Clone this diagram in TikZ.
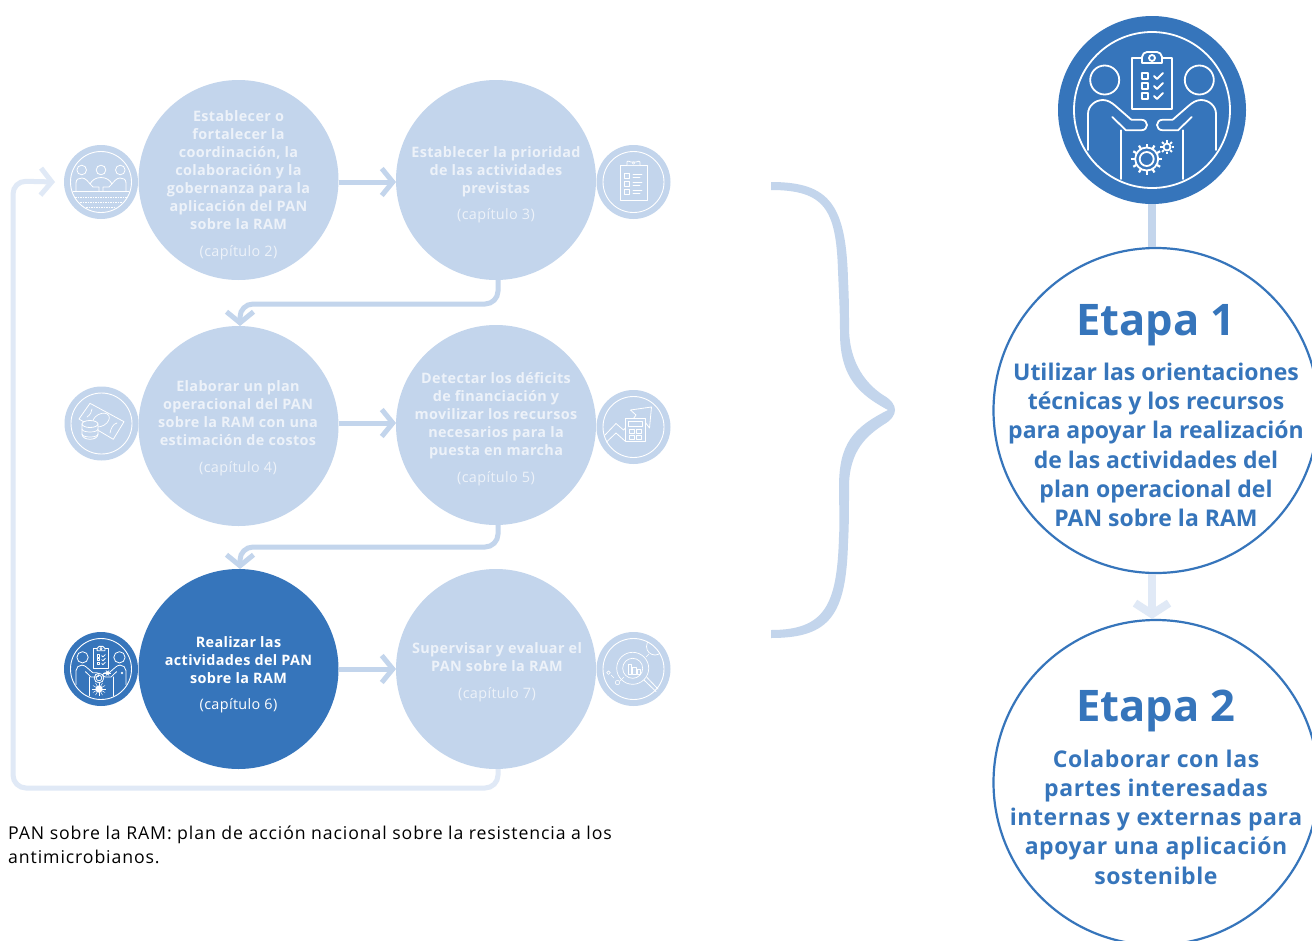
\documentclass[tikz,border=0pt]{standalone}
\usepackage{fontspec}
\setmainfont{Open Sans}
\newfontfamily\stepfont[LetterSpace=2.5]{Open Sans}
\newfontfamily\notefont[LetterSpace=5]{Open Sans}
\usetikzlibrary{arrows.meta}
\definecolor{ramdark}{HTML}{3675BB}
\definecolor{ramlight}{HTML}{C3D5EC}
\definecolor{ramfaint}{HTML}{E0E9F6}
\definecolor{ramtext}{HTML}{EDF2F9}
\tikzset{
  stepc/.style={circle,fill=ramlight,inner sep=0pt,outer sep=0pt,minimum size=200pt},
  stepd/.style={stepc,fill=ramdark},
  iconc/.style={circle,fill=ramlight,inner sep=0pt,outer sep=0pt,minimum size=74pt},
  icond/.style={iconc,fill=ramdark},
  stept/.style={align=center,text=ramtext,inner sep=0pt,font=\stepfont\fontsize{14.4}{18}\selectfont\bfseries},
  stagec/.style={circle,draw=ramdark,fill=white,line width=2.2pt,inner sep=0pt,minimum size=325pt},
  staget/.style={align=center,text=ramdark,inner sep=0pt,font=\fontsize{23}{29.3}\selectfont\bfseries},
  stagen/.style={text=ramdark,inner sep=0pt,font=\fontsize{43.5}{50}\selectfont\bfseries},
  flow/.style={draw=ramlight,line width=5pt,rounded corners=13pt,-{Straight Barb[length=11pt,width=27pt]}},
  flowf/.style={flow,draw=ramfaint},
  ring/.style={draw=white,line width=.9pt},
  iconl/.style={draw=white,line cap=round,line join=round},
  handshake/.pic={
    \draw[iconl] (-47.3,-30) circle (14.5);
    \draw[iconl] (47.3,-30) circle (14.5);
    \draw[iconl] (-20,-52) rectangle (20,-1);
    \draw[iconl,fill=ramdark] (-10,-47) -- (-10,-53) .. controls (-10,-56) and (-7,-58) .. (-5,-58) .. controls (-3,-58) and (3,-58) .. (5,-58) .. controls (7,-58) and (10,-56) .. (10,-53) -- (10,-47) -- cycle;
    \draw[iconl] (0,-52) circle (3);
    \foreach \y in {-34,-24,-14} {
      \draw[iconl] (-10,\y-3) rectangle (-4,\y+3);
      \draw[iconl] (2,\y) -- (5,\y+3) -- (11,\y-3);
    }
    \foreach \s in {1,-1} {
      \begin{scope}[xscale=\s]
      \draw[iconl] (-64,40) -- (-64,4) .. controls (-64,-4) and (-57,-10) .. (-49,-10) .. controls (-44,-10) and (-40,-7) .. (-37,-4.5) -- (-20.7,9.7) -- (-11,9.7) .. controls (-3,9.7) and (-3,20.3) .. (-11,20.3) -- (-26,20.3) -- (-39.7,7);
      \draw[iconl] (-30.7,20.3) -- (-30.7,69);
      \end{scope}
    }
  }
}
\begin{document}
\begin{tikzpicture}[x=1pt,y=-1pt]
\useasboundingbox (0,0) rectangle (1312,940);
\fill[white] (0,0) rectangle (1312,940);

\node[stepc] (coord) at (238.5,180) {};
\node[stepc] (prior) at (496,180) {};
\node[stepc] (plan) at (238.5,426) {};
\node[stepc] (fund) at (496,425) {};
\node[stepd] (impl) at (238.5,669) {};
\node[stepc] (eval) at (496,669) {};

\node[iconc] (icoord) at (101,182) {};
\node[iconc] (iprior) at (633.5,182) {};
\node[iconc] (iplan) at (101.5,423.5) {};
\node[iconc] (ifund) at (633.5,427) {};
\node[icond] (iimpl) at (101,669) {};
\node[iconc] (ieval) at (633.5,669) {};
\foreach \n in {icoord,iprior,iplan,ifund,iimpl,ieval} \draw[ring] (\n) circle (30.5);

\node[stept] (tcoord) at (238.5,185.5) {Establecer o\\fortalecer la\\coordinación, la\\colaboración y la\\gobernanza para la\\aplicación del PAN\\sobre la RAM\\[8.5pt]\mdseries (capítulo 2)};
\node[stept] (tprior) at (496,185) {Establecer la prioridad\\de las actividades\\previstas\\[8.5pt]\mdseries (capítulo 3)};
\node[stept] (tplan) at (238,428.5) {Elaborar un plan\\operacional del PAN\\sobre la RAM con una\\estimación de costos\\[8.5pt]\mdseries (capítulo 4)};
\node[stept] (tfund) at (496,429) {Detectar los déficits\\de financiación y\\movilizar los recursos\\necesarios para la\\puesta en marcha\\[8.5pt]\mdseries (capítulo 5)};
\node[stept,text=white] (timpl) at (238.5,674.5) {Realizar las\\actividades del PAN\\sobre la RAM\\[8.5pt]\mdseries (capítulo 6)};
\node[stept] (teval) at (497,672) {Supervisar y evaluar el\\PAN sobre la RAM\\[8.5pt]\mdseries (capítulo 7)};

\draw[flow] ([yshift=-2pt]coord.east) -- ([yshift=-2pt]prior.west);
\draw[flow] ([yshift=3pt]plan.east) -- ([yshift=2pt]fund.west);
\draw[flow] (impl.east) -- (eval.west);

\coordinate (bend1) at (240,304);
\coordinate (bend2) at (240,547);
\coordinate (bend3) at (498,788);
\draw[flow] ([xshift=2pt]prior.south) |- (bend1) -- ([xshift=1.5pt]plan.north);
\draw[flow] ([xshift=2pt]fund.south) |- (bend2) -- ([xshift=1.5pt]impl.north);
\draw[flowf] ([xshift=2pt]eval.south) -- (bend3) -- (13,788) -- (13,181) -- ([xshift=-9pt]icoord.west);

% people around a table
\draw[iconl,line width=.8pt] (81.7,170) circle (4.8) (101,170) circle (4.8) (120.3,170) circle (4.8);
\draw[iconl,line width=.8pt] (76,191) -- (76,183) .. controls (76,179) and (79,178) .. (82,178) .. controls (86,178) and (88,182) .. (93,187) -- (99,187) -- (99,191);
\draw[iconl,line width=.8pt] (126,191) -- (126,183) .. controls (126,179) and (123,178) .. (120,178) .. controls (116,178) and (114,182) .. (109,187) -- (103,187) -- (103,191);
\draw[iconl,line width=.8pt] (90,184) .. controls (92,180) and (96,177.5) .. (101,177.5) .. controls (106,177.5) and (110,180) .. (112,184);
\draw[iconl,line width=1pt] (73,191.7) -- (129,191.7);
\foreach \y/\a in {197/75,202/80,207/86} \draw[white,line width=.4pt,dash pattern=on 1.5pt off 1pt] (\a,\y) -- (202-\a,\y);

% clipboard
\draw[iconl,line width=.8pt] (620,165) rectangle (647,200.5);
\draw[iconl,line width=.8pt,fill=ramlight] (627,165) -- (627,162) .. controls (627,160) and (630,162) .. (631,162) -- (636,162) .. controls (638,162) and (640,160) .. (640,162) -- (640,165);
\draw[iconl,line width=.6pt] (633.5,163) circle (1.2);
\foreach \y in {176,184,192} {
  \draw[iconl,line width=.7pt] (624.5,\y-2.5) rectangle (629.5,\y+2.5);
  \draw[iconl,line width=.7pt] (633,\y-2) -- (642,\y-2) (633,\y+1) -- (640,\y+1);
}

% banknote and coins
\draw[iconl,line width=.8pt] (90,403.3) -- (124,421.7) -- (113.3,439.3) -- (79,419) -- cycle;
\draw[iconl,line width=.7pt,rotate around={30:(101,420)}] (101,420) ellipse (9 and 6);
\draw[iconl,line width=.7pt] (92,409) .. controls (92,412) and (90,415) .. (87,417);
\draw[iconl,line width=.7pt] (117,423) .. controls (113,424) and (111,428) .. (110,433);
\draw[iconl,line width=.8pt,fill=ramlight] (82,424) -- (82,434) .. controls (82,441) and (98,441) .. (98,434) -- (98,424);
\draw[iconl,line width=.8pt,fill=ramlight] (90,424) ellipse (8 and 3.5);
\draw[iconl,line width=.7pt] (82,429) .. controls (82,433) and (98,433) .. (98,429);
\draw[iconl,line width=.7pt] (82,434) .. controls (82,438) and (98,438) .. (98,434);

% calculator and rising arrow
\draw[iconl,line width=.8pt] (605,435) -- (616,423.5) -- (623.5,430) -- (631,422) -- (636,415) -- (630.5,410) -- (651.5,407) -- (649.5,428) -- (645,422);
\draw[iconl,line width=.8pt] (606.5,442) -- (616,433) -- (625,441);
\draw[iconl,line width=.8pt,fill=ramlight] (625.7,418.3) rectangle (645,441.7);
\draw[iconl,line width=.7pt] (628.5,421.5) rectangle (642.5,426);
\foreach \x in {629,636} \foreach \y in {429,435} \draw[iconl,line width=.7pt] (\x,\y) rectangle (\x+5.5,\y+4);

% magnifier
\draw[iconl,line width=.7pt] (632.7,668.3) circle (16) (632.7,668.3) circle (10);
\draw[iconl,line width=.8pt] (644,680) -- (656,691.5) (647,677.5) -- (658,689);
\foreach \x/\h in {628/10,632.5/7,637/4.5} \draw[iconl,line width=.6pt] (\x,674) rectangle (\x+3.5,674-\h);
\draw[iconl,line width=.6pt] (608.5,672.7) circle (1.8) (617.5,682.5) circle (2.2);
\begin{scope}
\clip (ieval) circle (30.5);
\draw[iconl,line width=.7pt] (655,646.5) circle (8.5);
\end{scope}
\draw[iconl,line width=.5pt] (620,681) -- (624,677) (611,675) -- (614,678) (646,657) -- (649,654);

% meeting with a checklist, small
\pic[scale=.39,line width=.8pt] (smallmeet) at (iimpl) {handshake};
\draw[iconl,line width=.8pt] (99,678) circle (4.8) (99,678) circle (2.8);
\fill[white] (99,689) circle (3.6);
\foreach \a in {0,30,...,330} \draw[white,line width=.5pt] (99,689) -- ++(\a:7);
\fill[white] (107.5,673) circle (1.8);
\foreach \a in {0,60,...,300} \draw[white,line width=.5pt] (107.5,673) -- ++(\a:3.2);
\draw[iconl,line width=.5pt] (122,673) circle (1);

% brace
\fill[ramlight] (771,182) .. controls (830,182) and (846,205) .. (848,280) .. controls (849,300) and (849,310) .. (849,327) .. controls (849,365) and (868,385) .. (883,395) .. controls (899,404) and (899,416) .. (883,425) .. controls (868,435) and (849,450) .. (849,487) .. controls (849,510) and (849,525) .. (848,543) .. controls (846,615) and (830,638) .. (771,638) -- (771,630) .. controls (825,630) and (837,605) .. (839,537) .. controls (840,520) and (839,505) .. (839,487) .. controls (839,445) and (852,428) .. (888,410) .. controls (860,395) and (840,378) .. (840,333) .. controls (840,310) and (839,295) .. (838,270) .. controls (836,210) and (825,190) .. (771,190) -- cycle;

\node[circle,fill=ramdark,inner sep=0pt,outer sep=0pt,minimum size=188pt] (iround) at (1152,110) {};
\draw[ring,line width=1.8pt] (iround) circle (78);
\pic[line width=1.8pt] (bigmeet) at (iround) {handshake};
\draw[iconl,line width=1.8pt] (1146.7,159) circle (11.5) (1146.7,159) circle (7);
\foreach \a in {0,30,...,330} \draw[white,line width=2.2pt] (1146.7,159) ++(\a:12) -- ++(\a:3.5);
\draw[iconl,line width=1.8pt] (1167,147) circle (3.5);
\foreach \a in {0,45,...,315} \draw[white,line width=1.8pt] (1167,147) ++(\a:4.5) -- ++(\a:2.5);

\node[stagec] (stagea) at (1156,410.5) {};
\node[stagec] (stageb) at (1156,782.5) {};
\node[stagen] (nstagea) at (1156,325) {Etapa 1};
\node[staget] (tstagea) at (1156,445) {Utilizar las orientaciones\\técnicas y los recursos\\para apoyar la realización\\de las actividades del\\plan operacional del\\PAN sobre la RAM};
\node[stagen] (nstageb) at (1156,711) {Etapa 2};
\node[staget,font=\stepfont\fontsize{23}{29.3}\selectfont\bfseries] (tstageb) at (1156,817) {Colaborar con las\\partes interesadas\\internas y externas para\\apoyar una aplicación\\sostenible};

\draw[draw=ramlight,line width=8pt] (iround.south) -- (iround.south |- stagea.north);
\draw[flowf,line width=8pt,-{Straight Barb[length=11pt,width=34pt]}] (stagea.south -| iround) -- (stageb.north -| iround);

\node[anchor=north west,align=left,inner sep=0pt,font=\notefont\fontsize{17.7}{24}\selectfont] (note) at (8,825.5) {PAN sobre la RAM: plan de acción nacional sobre la resistencia a los\\antimicrobianos.};
\end{tikzpicture}
\end{document}
